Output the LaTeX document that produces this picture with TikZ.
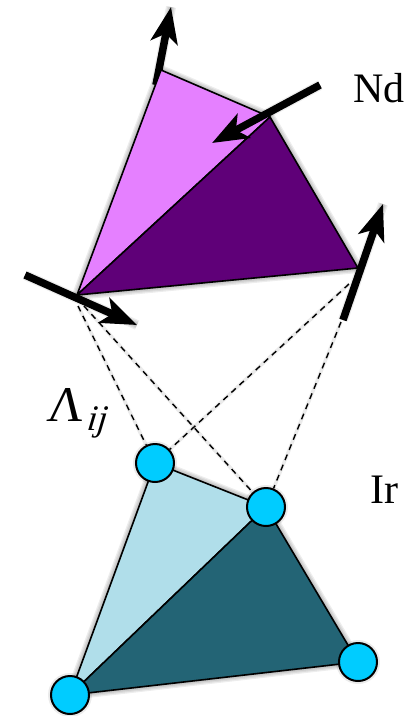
\documentclass[tikz,border=0pt]{standalone}
\usepackage{fontspec}
\setmainfont{Liberation Serif}
\newfontfamily\lamfont[FakeSlant=0.12]{Liberation Serif}
\usetikzlibrary{arrows.meta}
\definecolor{ndlight}{HTML}{E580FF}
\definecolor{nddark}{HTML}{5F0078}
\definecolor{irlight}{HTML}{B0DEEA}
\definecolor{irdark}{HTML}{236475}
\definecolor{ircirc}{HTML}{00CCFF}
\newcommand{\softshadow}[2][]{%
  \foreach \sw in {10,7.5,5,2.5}{%
    \path[draw=black,draw opacity=.07,fill=black,fill opacity=.02,line width=\sw pt,line join=round,xshift=3pt,yshift=-3.5pt,#1] #2;
  }}
\tikzset{
  x=1pt,y=-1pt,
  facet/.style={draw=black,line width=1.6pt,line join=round},
  vec/.style={draw=black,line width=7.5pt,-{Stealth[length=36pt,width=27pt,inset=9pt]}},
  link/.style={draw=black,line width=1.4pt,dash pattern=on 6pt off 5pt},
  site/.style={circle,draw=black,line width=2pt,fill=ircirc,minimum size=38pt,inner sep=0pt},
  vertexpt/.style={inner sep=0pt,minimum size=0pt},
  lbl/.style={inner sep=0pt,font=\fontsize{42}{46}\selectfont,text=black},
  lamb/.style={inner sep=0pt,font=\fontsize{50}{54}\selectfont,text=black}
}
\begin{document}
\begin{tikzpicture}
\useasboundingbox (0,0) rectangle (410,716);
\fill[white] (0,0) rectangle (410,716);
\node[vertexpt] (na) at (161,70) {};
\node[vertexpt] (nb) at (270,117) {};
\node[vertexpt] (nc) at (358,268) {};
\node[vertexpt] (nd) at (77,295) {};
\coordinate (a1s) at (156,85);  \coordinate (a1e) at (171,7);
\coordinate (a2s) at (320,85);  \coordinate (a2e) at (212,143);
\coordinate (a3s) at (25,275);  \coordinate (a3e) at (137,325);
\coordinate (a4s) at (343,320); \coordinate (a4e) at (383,204);
\coordinate (d1s) at (78,306);  \coordinate (d2s) at (84,306);
\coordinate (d3s) at (349,284); \coordinate (d4s) at (341,322);
\coordinate (ia) at (155,463);
\coordinate (ib) at (266,507);
\coordinate (ic) at (358,662);
\coordinate (id) at (70,695);
% soft shadows
\softshadow{(a1s)--(a1e)}
\softshadow{(a2s)--(a2e)}
\softshadow{(a3s)--(a3e)}
\softshadow{(a4s)--(a4e)}
\softshadow{(na.center)--(nb.center)--(nc.center)--(nd.center)--cycle}
\softshadow{(ia)--(ib)--(ic)--(id)--cycle}
\foreach \sa/\sb in {d1s/ia,d2s/ib,d3s/ia,d4s/ib}{
  \draw[black,opacity=.08,line width=3.5pt,xshift=3pt,yshift=-3pt] (\sa)--(\sb);
}
\foreach \sc in {ia,ib,ic,id}{
  \fill[black,opacity=.08,xshift=3pt,yshift=-3.5pt] (\sc) circle (22pt);
  \fill[black,opacity=.1,xshift=3pt,yshift=-3.5pt] (\sc) circle (20pt);
}
% arrows behind the upper triangle
\draw[vec] (a1s) -- (a1e);
\draw[vec] (a4s) -- (a4e);
% upper triangle
\filldraw[facet,fill=ndlight] (na.center)--(nb.center)--(nd.center)--cycle;
\filldraw[facet,fill=nddark] (nb.center)--(nc.center)--(nd.center)--cycle;
\draw[vec] (a2s) -- (a2e);
\draw[vec] (a3s) -- (a3e);
% lower triangle
\filldraw[facet,fill=irlight] (ia)--(ib)--(id)--cycle;
\filldraw[facet,fill=irdark] (ib)--(ic)--(id)--cycle;
\node[site] (sa) at (ia) {};
\node[site] (sb) at (ib) {};
\node[site] (sc) at (ic) {};
\node[site] (sd) at (id) {};
% dashed links
\draw[link] (d1s) -- (sa);
\draw[link] (d2s) -- (sb);
\draw[link] (d3s) -- (sa);
\draw[link] (d4s) -- (sb);
% labels
\node[lbl] (tnd) at (379,88) {Nd};
\node[lbl] (tir) at (384,490) {Ir};
\node[lamb,anchor=base west] (tla) at (46,421) {\lamfont Λ\kern4pt\raisebox{-9pt}{\fontsize{36}{38}\selectfont\itshape ij}};
\end{tikzpicture}
\end{document}
